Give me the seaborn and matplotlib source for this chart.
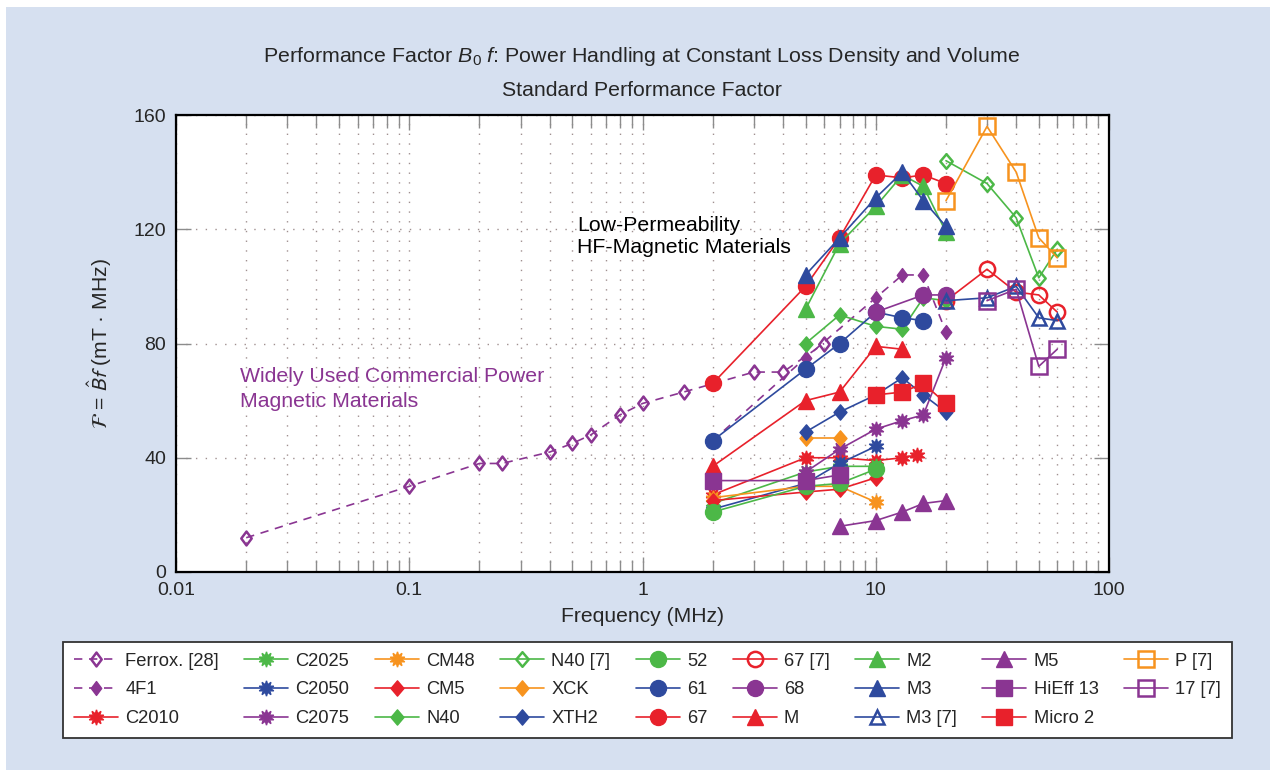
import matplotlib
matplotlib.use("Agg")
import pandas as pd
import matplotlib.pyplot as plt
import matplotlib.ticker as mtick
from matplotlib.patches import Rectangle
from matplotlib.path import Path
import seaborn as sns

# frequency (MHz) / performance factor (mT*MHz), one pair per material
ferrox_f = [0.02, 0.1, 0.2, 0.25, 0.4, 0.5, 0.6, 0.8, 1, 1.5, 3, 4, 6]
ferrox_v = [12, 30, 38, 38, 42, 45, 48, 55, 59, 63, 70, 70, 80]
f4f1_f = [2, 5, 10, 13, 16, 20]
f4f1_v = [46, 75, 96, 104, 104, 84]
c2010_f = [2, 5, 7, 10, 13, 15]
c2010_v = [27, 40, 40, 39, 40, 41]
c2025_f = [2, 5, 7, 10]
c2025_v = [24, 35, 37, 37]
c2050_f = [2, 5, 7, 10]
c2050_v = [22, 31, 38, 44]
c2075_f = [5, 7, 10, 13, 16, 20]
c2075_v = [35, 43, 50, 53, 55, 75]
cm48_f = [2, 5, 7, 10]
cm48_v = [26, 30, 30, 24.5]
cm5_f = [2, 5, 7, 10]
cm5_v = [25, 28, 29, 33]
n40_f = [5, 7, 10, 13, 16, 20]
n40_v = [80, 90, 86, 85, 96, 95]
n40r_f = [20, 30, 40, 50, 60]
n40r_v = [144, 136, 124, 103, 113]
xck_f = [5, 7]
xck_v = [47, 47]
xth2_f = [5, 7, 10, 13, 16, 20]
xth2_v = [49, 56, 62, 68, 62, 56]
m52_f = [2, 5, 7, 10]
m52_v = [21, 30, 31, 36]
m61_f = [2, 5, 7, 10, 13, 16]
m61_v = [46, 71, 80, 91, 89, 88]
m67_f = [2, 5, 7, 10, 13, 16, 20]
m67_v = [66, 100, 117, 139, 138, 139, 136]
m67r_f = [20, 30, 40, 50, 60]
m67r_v = [95, 106, 98, 97, 91]
m68_f = [10, 16, 20]
m68_v = [91, 97, 97]
m_f = [2, 5, 7, 10, 13]
m_v = [37, 60, 63, 79, 78]
m2_f = [5, 7, 10, 13, 16, 20]
m2_v = [92, 115, 128, 139, 135, 119]
m3_f = [5, 7, 10, 13, 16, 20]
m3_v = [104, 117, 131, 140, 130, 121]
m3r_f = [20, 30, 40, 50, 60]
m3r_v = [95, 96, 100, 89, 88]
m5_f = [7, 10, 13, 16, 20]
m5_v = [16, 18, 21, 24, 25]
hieff_f = [2, 5, 7]
hieff_v = [32, 32, 34]
micro2_f = [10, 13, 16, 20]
micro2_v = [62, 63, 66, 59]
p7_f = [20, 30, 40, 50, 60]
p7_v = [130, 156, 140, 117, 110]
m17_f = [30, 40, 50, 60]
m17_v = [95, 99, 72, 78]

x_ticks = [0.01, 0.1, 1, 10, 100]
x_ticklabels = ["0.01", "0.1", "1", "10", "100"]
y_ticks = [0, 40, 80, 120, 160]

purple = "#8a3592"
red = "#e8212b"
green = "#4cb847"
blue = "#2e4a9e"
orange = "#f7931e"


def diamond(aspect):
    return Path([(0, 1), (aspect, 0), (0, -1), (-aspect, 0), (0, 1)],
                [Path.MOVETO, Path.LINETO, Path.LINETO, Path.LINETO, Path.CLOSEPOLY])


ast = (10, 1, 0)
dthin = diamond(0.75)
dfat = diamond(0.85)
dash = (0, (5, 4))

# label, f, v, colour, marker, size, filled, linestyle
series = [
    ("Ferrox. [28]", ferrox_f, ferrox_v, purple, dthin, 10, False, dash),
    ("4F1", f4f1_f, f4f1_v, purple, dthin, 10, True, dash),
    ("C2010", c2010_f, c2010_v, red, ast, 11, True, "-"),
    ("C2025", c2025_f, c2025_v, green, ast, 11, True, "-"),
    ("C2050", c2050_f, c2050_v, blue, ast, 11, True, "-"),
    ("C2075", c2075_f, c2075_v, purple, ast, 11, True, "-"),
    ("CM48", cm48_f, cm48_v, orange, ast, 11, True, "-"),
    ("CM5", cm5_f, cm5_v, red, dfat, 11, True, "-"),
    ("N40", n40_f, n40_v, green, dfat, 11, True, "-"),
    ("N40 [7]", n40r_f, n40r_v, green, dfat, 10.5, False, "-"),
    ("XCK", xck_f, xck_v, orange, dfat, 11, True, "-"),
    ("XTH2", xth2_f, xth2_v, blue, dfat, 11, True, "-"),
    ("52", m52_f, m52_v, green, "o", 11.5, True, "-"),
    ("61", m61_f, m61_v, blue, "o", 11.5, True, "-"),
    ("67", m67_f, m67_v, red, "o", 11.5, True, "-"),
    ("67 [7]", m67r_f, m67r_v, red, "o", 11, False, "-"),
    ("68", m68_f, m68_v, purple, "o", 11.5, True, "-"),
    ("M", m_f, m_v, red, "^", 11.5, True, "-"),
    ("M2", m2_f, m2_v, green, "^", 11.5, True, "-"),
    ("M3", m3_f, m3_v, blue, "^", 11.5, True, "-"),
    ("M3 [7]", m3r_f, m3r_v, blue, "^", 10.5, False, "-"),
    ("M5", m5_f, m5_v, purple, "^", 11.5, True, "-"),
    ("HiEff 13", hieff_f, hieff_v, purple, "s", 11, True, "-"),
    ("Micro 2", micro2_f, micro2_v, red, "s", 11, True, "-"),
    ("P [7]", p7_f, p7_v, orange, "s", 11, False, "-"),
    ("17 [7]", m17_f, m17_v, purple, "s", 11, False, "-"),
]

sns.set_theme(style="ticks")
plt.rcParams.update({
    "font.family": ["Liberation Sans", "DejaVu Sans"],
    "font.size": 14,
    "mathtext.fontset": "custom",
    "mathtext.rm": "Liberation Sans",
    "mathtext.it": "Liberation Sans:italic",
    "mathtext.fallback": "stix",
})

W, H = 1278, 777
fig = plt.figure(figsize=(W / 100, H / 100), dpi=100)
fig.patch.set_facecolor("white")
fig.patches.append(Rectangle((6 / W, 7 / H), 1264 / W, 763 / H, transform=fig.transFigure,
                             facecolor="#d6e0f0", edgecolor="none", zorder=-10))
ax = fig.add_axes([176 / W, 1 - 572 / H, 933 / W, 457 / H])
ax.set_facecolor("white")

for label, f, v, col, mk, ms, filled, ls in series:
    df = pd.DataFrame({"f": f, "v": v})
    sns.lineplot(data=df, x="f", y="v", ax=ax, color=col, marker=mk, markersize=ms,
                 markerfacecolor=col if filled else "none", markeredgecolor=col,
                 markeredgewidth=1.0 if filled else 1.8, linestyle=ls, linewidth=1.2,
                 label=label, errorbar=None, legend=False)

ax.set_xscale("log")
ax.set_xlim(0.01, 100)
ax.set_ylim(0, 160)
ax.set_xticks(x_ticks, labels=x_ticklabels)
ax.xaxis.set_minor_locator(mtick.LogLocator(base=10, subs=range(2, 10)))
ax.xaxis.set_minor_formatter(mtick.NullFormatter())
ax.set_yticks(y_ticks)
ax.tick_params(which="both", direction="in", top=True, right=True, color="#8c8c8c",
               labelsize=14, width=1)
ax.tick_params(which="major", length=11, pad=7)
ax.tick_params(which="minor", length=9)
ax.grid(True, which="both", axis="x", linestyle=(0, (1, 6)), color="#a09090", linewidth=1)
ax.grid(True, which="major", axis="y", linestyle=(0, (1, 6)), color="#a09090", linewidth=1)
for s in ax.spines.values():
    s.set_color("black")
    s.set_linewidth(1.6)

ax.set_xlabel("Frequency (MHz)", fontsize=15.2, labelpad=6)
ax.set_ylabel(r"$\mathcal{F}$ = $\hat{B}f$ (mT · MHz)", fontsize=15.2, math_fontfamily="stixsans",
              labelpad=14)

fig.text(642 / W, 1 - 56 / H,
         r"Performance Factor $B_0$ $f$: Power Handling at Constant Loss Density and Volume",
         ha="center", va="center", fontsize=15.4)
fig.text(642 / W, 1 - 90 / H, "Standard Performance Factor", ha="center", va="center",
         fontsize=15.3)

ax.text(0.430, 0.759, "Low-Permeability", transform=ax.transAxes, ha="left", va="center",
        fontsize=15.3, color="black")
ax.text(0.430, 0.709, "HF-Magnetic Materials", transform=ax.transAxes, ha="left", va="center",
        fontsize=15.3, color="black")
ax.text(0.0686, 0.427, "Widely Used Commercial Power", transform=ax.transAxes, ha="left",
        va="center", fontsize=15.3, color=purple)
ax.text(0.0686, 0.372, "Magnetic Materials", transform=ax.transAxes, ha="left", va="center",
        fontsize=15.3, color=purple)

handles, labels = ax.get_legend_handles_labels()
leg = fig.legend(handles, labels, ncol=9, loc="lower left",
                 bbox_to_anchor=(63 / W, 39 / H, 1169 / W, 95 / H), mode="expand",
                 frameon=True, fancybox=False, framealpha=1, edgecolor="#333333",
                 handlelength=2.4, handletextpad=0.4, columnspacing=0.5, labelspacing=0.64,
                 borderaxespad=0, borderpad=0.6, fontsize=13.2)
leg.get_frame().set_linewidth(1.3)

fig.savefig("out.png", dpi=100)
